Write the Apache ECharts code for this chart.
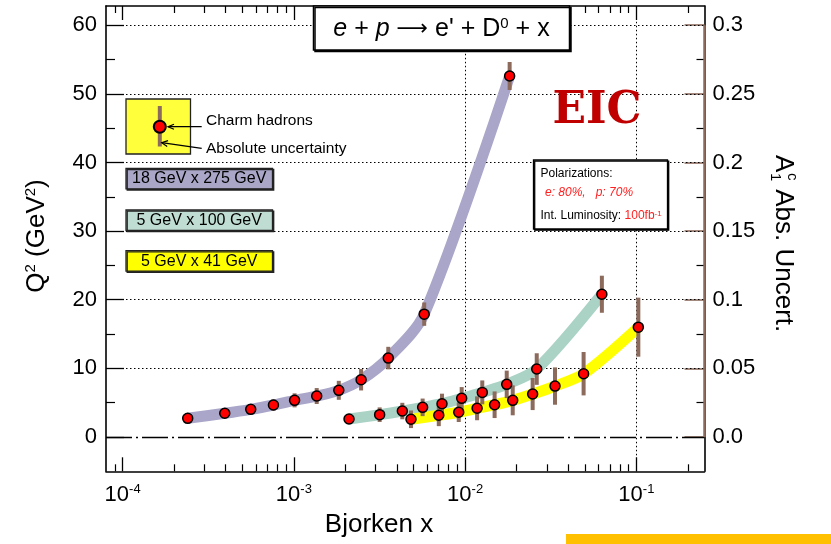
<!DOCTYPE html>
<html><head><meta charset="utf-8">
<script src="https://cdn.jsdelivr.net/npm/echarts@6/dist/echarts.min.js"></script>
<style>html,body{margin:0;padding:0;background:#fff}#c{width:831px;height:544px}</style>
</head><body><div id="c"></div>
<script>
// ---------- data ----------
const x18x275 = [2.40e-4, 3.95e-4, 5.6e-4, 7.6e-4, 1.01e-3, 1.36e-3, 1.83e-3, 2.47e-3, 3.56e-3, 5.77e-3, 1.82e-2];
const q2_18x275 = [2.72, 3.45, 4.03, 4.66, 5.34, 5.97, 6.80, 8.34, 11.5, 17.9, 52.6];
const unc18x275 = [0.0022, 0.0029, 0.0033, 0.0040, 0.0051, 0.0058, 0.0069, 0.0078, 0.0082, 0.0085, 0.0102];

const x5x100 = [2.10e-3, 3.17e-3, 4.30e-3, 5.65e-3, 7.33e-3, 9.55e-3, 1.26e-2, 1.75e-2, 2.62e-2, 6.29e-2];
const q2_5x100 = [2.62, 3.25, 3.78, 4.32, 4.85, 5.63, 6.5, 7.67, 9.9, 20.8];
const unc5x100 = [0.0036, 0.0053, 0.0060, 0.0064, 0.0073, 0.0082, 0.0087, 0.0100, 0.0115, 0.0135];

const x5x41 = [4.83e-3, 7.02e-3, 9.18e-3, 1.175e-2, 1.487e-2, 1.897e-2, 2.48e-2, 3.35e-2, 4.92e-2, 1.027e-1];
const q2_5x41 = [2.58, 3.16, 3.6, 4.18, 4.7, 5.34, 6.26, 7.42, 9.22, 16.0];
const unc5x41 = [0.0064, 0.0079, 0.0071, 0.0087, 0.0097, 0.0109, 0.0117, 0.0136, 0.0158, 0.0215];

const beamLabels = ['18 GeV x 275 GeV', '5 GeV x 100 GeV', '5 GeV x 41 GeV'];

const xMajorTicks = [1e-4, 1e-3, 1e-2, 1e-1];
const xMinorTicks = [9e-5, 2e-4, 3e-4, 4e-4, 5e-4, 6e-4, 7e-4, 8e-4, 9e-4,
  2e-3, 3e-3, 4e-3, 5e-3, 6e-3, 7e-3, 8e-3, 9e-3,
  2e-2, 3e-2, 4e-2, 5e-2, 6e-2, 7e-2, 8e-2, 9e-2, 2e-1];
const yMajorTicks = [0, 10, 20, 30, 40, 50, 60];
const yMinorTicks = [5, 15, 25, 35, 45, 55];
const rightTicks = [0, 0.05, 0.1, 0.15, 0.2, 0.25, 0.3];
const rightTickLabels = ['0.0', '0.05', '0.1', '0.15', '0.2', '0.25', '0.3'];

// ---------- setup ----------
const xMin = 8e-5, xMax = 0.25, yMin = -5, yMax = 62.8;
const ratio = yMajorTicks[yMajorTicks.length - 1] / rightTicks[rightTicks.length - 1];
const F = '"Liberation Sans", Arial, sans-serif';
const BROWN = '#8c6a5c';
const LX = v => Math.log10(v);
const colors = ['#a9a6c9', '#aad3c6', '#ffff00'];
const boxFills = ['#aaa6c8', '#c0ddd3', '#ffff00'];

const chart = echarts.init(document.getElementById('c'), null, {renderer: 'canvas'});

const zip = (a, b) => a.map((v, i) => [v, b[i]]);
const zip3 = (a, b, c) => a.map((v, i) => [v, b[i], c[i]]);

const sets = [
  [x18x275, q2_18x275, unc18x275],
  [x5x100, q2_5x100, unc5x100],
  [x5x41, q2_5x41, unc5x41]
];

const series = [];
// gridlines helper
series.push({
  type: 'line', xAxisIndex: 0, yAxisIndex: 0, data: [], silent: true, z: 1,
  markLine: {
    silent: true, symbol: ['none', 'none'], z: 1, animation: false,
    label: {show: false},
    lineStyle: {type: [1.5, 2.5], color: '#000', width: 1},
    data: [
      ...xMajorTicks.map(v => ({xAxis: v})),
      ...yMajorTicks.filter(v => v > 0).map(v => ({yAxis: v})),
      {yAxis: 0, lineStyle: {type: [26, 4, 2, 4], width: 1.3, color: '#000'}}
    ]
  }
});
sets.forEach((s, i) => {
  series.push({
    type: 'line', xAxisIndex: 0, yAxisIndex: 0, data: zip(s[0], s[1]),
    smooth: 0.3, showSymbol: false, symbol: 'none', z: 2, silent: true,
    lineStyle: {width: 11, color: colors[i]}
  });
});
sets.forEach((s, i) => {
  series.push({
    type: 'custom', xAxisIndex: 0, yAxisIndex: 0, data: zip3(s[0], s[1], s[2]), z: 3, silent: true,
    encode: {x: 0, y: 1},
    renderItem: (params, api) => {
      const x = api.value(0), y = api.value(1), u = api.value(2) * ratio;
      const p1 = api.coord([x, y + u]), p2 = api.coord([x, y - u]);
      return {type: 'rect', shape: {x: p1[0] - 2, y: p1[1], width: 4, height: p2[1] - p1[1]}, style: {fill: BROWN}};
    }
  });
});
sets.forEach((s, i) => {
  series.push({
    type: 'scatter', xAxisIndex: 0, yAxisIndex: 0, data: zip(s[0], s[1]), z: 4, silent: true,
    symbol: 'circle', symbolSize: 10,
    itemStyle: {color: '#ff0000', borderColor: '#000', borderWidth: 1.5, opacity: 1}
  });
});
// brown right-axis segment
series.push({
  type: 'line', xAxisIndex: 0, yAxisIndex: 2, data: [], silent: true, z: 6,
  markLine: {
    silent: true, symbol: ['none', 'none'], z: 6, animation: false, label: {show: false},
    lineStyle: {type: 'solid', color: BROWN, width: 2.5},
    data: [[{coord: [xMax, rightTicks[0]]}, {coord: [xMax, rightTicks[rightTicks.length - 1]]}]]
  }
});

const blackLine = {show: true, onZero: false, lineStyle: {color: '#000', width: 1.6}};
const noLine = {show: false, onZero: false};
const noLabel = {show: false};
const noSplit = {show: false};

const option = {
  animation: false,
  backgroundColor: '#fff',
  grid: {left: 106, right: 126.5, top: 6, bottom: 72.7, containLabel: false, outerBoundsMode: 'none'},
  xAxis: [
    {type: 'log', min: xMin, max: xMax, show: false, gridIndex: 0, axisLine: noLine},
    {type: 'value', min: LX(xMin), max: LX(xMax), position: 'bottom', axisLine: blackLine,
      axisTick: {show: true, inside: true, length: 14, customValues: xMajorTicks.map(LX), lineStyle: {color: '#000', width: 1.3}},
      axisLabel: {show: true, customValues: xMajorTicks.map(LX), margin: 12,
        formatter: v => '{b|10}{s|' + Math.round(v) + '}',
        rich: {b: {fontSize: 22, fontFamily: F, color: '#000', lineHeight: 24},
               s: {fontSize: 13, fontFamily: F, color: '#000', verticalAlign: 'top', lineHeight: 13}}},
      splitLine: noSplit},
    {type: 'value', min: LX(xMin), max: LX(xMax), position: 'bottom', axisLine: noLine,
      axisTick: {show: true, inside: true, length: 7, customValues: xMinorTicks.map(LX), lineStyle: {color: '#000', width: 1.2}},
      axisLabel: noLabel, splitLine: noSplit},
    {type: 'value', min: LX(xMin), max: LX(xMax), position: 'top', axisLine: blackLine,
      axisTick: {show: true, inside: true, length: 14, customValues: xMajorTicks.map(LX), lineStyle: {color: '#000', width: 1.3}},
      axisLabel: noLabel, splitLine: noSplit},
    {type: 'value', min: LX(xMin), max: LX(xMax), position: 'top', axisLine: noLine,
      axisTick: {show: true, inside: true, length: 7, customValues: xMinorTicks.map(LX), lineStyle: {color: '#000', width: 1.2}},
      axisLabel: noLabel, splitLine: noSplit}
  ],
  yAxis: [
    {type: 'value', min: yMin, max: yMax, position: 'left', axisLine: blackLine,
      axisTick: {show: true, inside: true, length: 18, customValues: yMajorTicks, lineStyle: {color: '#000', width: 1.3}},
      axisLabel: {show: true, customValues: yMajorTicks, margin: 9, fontSize: 22, fontFamily: F, color: '#000'},
      splitLine: noSplit},
    {type: 'value', min: yMin, max: yMax, position: 'left', axisLine: noLine,
      axisTick: {show: true, inside: true, length: 9, customValues: yMinorTicks, lineStyle: {color: '#000', width: 1.2}},
      axisLabel: noLabel, splitLine: noSplit},
    {type: 'value', min: yMin * rightTicks[6] / yMajorTicks[6], max: yMax * rightTicks[6] / yMajorTicks[6], position: 'right',
      axisLine: noLine,
      axisTick: {show: true, inside: true, length: 20, customValues: rightTicks, lineStyle: {color: BROWN, width: 1.6}},
      axisLabel: {show: true, customValues: rightTicks, margin: 8, fontSize: 22, fontFamily: F, color: '#000',
        formatter: v => { const i = rightTicks.findIndex(t => Math.abs(t - v) < 1e-9); return i >= 0 ? rightTickLabels[i] : ''; }},
      splitLine: noSplit},
    {type: 'value', min: yMin, max: yMax, position: 'right', axisLine: blackLine,
      axisTick: {show: true, inside: true, length: 8, customValues: yMinorTicks, lineStyle: {color: '#000', width: 1.2}},
      axisLabel: noLabel, splitLine: noSplit}
  ],
  series: series,
  graphic: [
    // title box
    {type: 'rect', z: 100, shape: {x: 313.5, y: 6, width: 256, height: 44},
      style: {fill: '#fff', stroke: '#000', lineWidth: 1.5, shadowColor: '#000', shadowOffsetX: 1.5, shadowOffsetY: 1.5, shadowBlur: 0}},
    {type: 'text', z: 101, x: 441.5, y: 29,
      style: {text: '{i|e} + {i|p} {ar|\u27F6} e\' + D{s|0} + x', align: 'center', verticalAlign: 'middle',
        fontSize: 25, fontFamily: F, fill: '#000',
        rich: {i: {fontStyle: 'italic', fontSize: 25, fontFamily: F, fill: '#000'},
               ar: {fontSize: 22, fontFamily: '"DejaVu Sans", sans-serif', fill: '#000'},
               s: {fontSize: 15, fontFamily: F, fill: '#000', verticalAlign: 'top', lineHeight: 15}}}},
    // legend sample
    {type: 'rect', z: 100, shape: {x: 126, y: 99, width: 64.5, height: 55},
      style: {fill: '#ffff3c', stroke: '#222', lineWidth: 1.3}},
    {type: 'rect', z: 101, shape: {x: 157.8, y: 106, width: 4, height: 40.5}, style: {fill: BROWN}},
    {type: 'circle', z: 102, shape: {cx: 159.8, cy: 126.7, r: 6}, style: {fill: '#ff0000', stroke: '#000', lineWidth: 2}},
    {type: 'line', z: 103, shape: {x1: 201.7, y1: 126.7, x2: 168, y2: 126.7}, style: {stroke: '#000', lineWidth: 1.2}},
    {type: 'polyline', z: 103, shape: {points: [[174, 124.2], [168, 126.7], [174, 129.2]]}, style: {stroke: '#000', lineWidth: 1.2, fill: null}},
    {type: 'line', z: 103, shape: {x1: 201.7, y1: 148.3, x2: 161.7, y2: 142.7}, style: {stroke: '#000', lineWidth: 1.2}},
    {type: 'polyline', z: 103, shape: {points: [[168.06, 140.56], [161.7, 142.7], [167.22, 146.5]]}, style: {stroke: '#000', lineWidth: 1.2, fill: null}},
    {type: 'text', z: 103, x: 206, y: 121, style: {text: 'Charm hadrons', fontSize: 15.5, fontFamily: F, fill: '#000', verticalAlign: 'middle'}},
    {type: 'text', z: 103, x: 206, y: 148.5, style: {text: 'Absolute uncertainty', fontSize: 15.5, fontFamily: F, fill: '#000', verticalAlign: 'middle'}},
    // beam boxes
    ...[168.3, 210, 250.7].map((y, i) => ({
      type: 'group', z: 100, children: [
        {type: 'rect', z: 100, shape: {x: 126, y: y, width: 146.5, height: 20.5},
          style: {fill: boxFills[i], stroke: '#222', lineWidth: 1.3, shadowColor: '#222', shadowOffsetX: 1.2, shadowOffsetY: 1.2, shadowBlur: 0}},
        {type: 'text', z: 101, x: 199.2, y: y + 10.5, style: {text: beamLabels[i], fontSize: 16, fontFamily: F, fill: '#000', align: 'center', verticalAlign: 'middle'}}
      ]})),
    // EIC
    {type: 'text', z: 100, x: 597, y: 111.5, style: {text: 'EIC', fontSize: 44, fontWeight: 'bold', fontFamily: '"DejaVu Serif", serif', fill: '#c00000', align: 'center', verticalAlign: 'middle'}},
    // polarization box
    {type: 'rect', z: 100, shape: {x: 533.5, y: 160, width: 134, height: 69},
      style: {fill: '#fff', stroke: '#000', lineWidth: 1.3, shadowColor: '#000', shadowOffsetX: 1.2, shadowOffsetY: 1.2, shadowBlur: 0}},
    {type: 'text', z: 101, x: 540.5, y: 173.5, style: {text: 'Polarizations:', fontSize: 12, fontFamily: F, fill: '#000', verticalAlign: 'middle'}},
    {type: 'text', z: 101, x: 545, y: 192.5, style: {text: 'e: 80%,   p: 70%', fontSize: 12, fontStyle: 'italic', fontFamily: F, fill: '#ff2020', verticalAlign: 'middle'}},
    {type: 'text', z: 101, x: 540.5, y: 215.5, style: {text: '{k|Int. Luminosity: }{r|100fb}{s|-1}', fontSize: 12, fontFamily: F, fill: '#000', verticalAlign: 'middle',
      rich: {k: {fontSize: 12, fontFamily: F, fill: '#000'}, r: {fontSize: 12, fontFamily: F, fill: '#ff2020'},
             s: {fontSize: 8, fontFamily: F, fill: '#ff2020', verticalAlign: 'top', lineHeight: 8}}}},
    // axis titles
    {type: 'text', z: 100, x: 379, y: 525, style: {text: 'Bjorken x', fontSize: 26, fontFamily: F, fill: '#000', align: 'center', verticalAlign: 'middle'}},
    {type: 'text', z: 100, x: 37, y: 236, rotation: Math.PI / 2,
      style: {text: '{a|Q}{s|2}{a| (GeV}{s|2}{a|)}', align: 'center', verticalAlign: 'middle', fontSize: 26, fontFamily: F, fill: '#000',
        rich: {a: {fontSize: 26, fontFamily: F, fill: '#000', lineHeight: 28}, s: {fontSize: 15, fontFamily: F, fill: '#000', verticalAlign: 'top', lineHeight: 15}}}},
    {type: 'group', z: 100, x: 783, y: 155, rotation: -Math.PI / 2, children: [
      {type: 'text', x: 0, y: 0, style: {text: 'A', fontSize: 26, fontFamily: F, fill: '#000', verticalAlign: 'middle'}},
      {type: 'text', x: 18, y: -9, style: {text: 'c', fontSize: 15, fontFamily: F, fill: '#000', verticalAlign: 'middle'}},
      {type: 'text', x: 18, y: 8, style: {text: '1', fontSize: 15, fontFamily: F, fill: '#000', verticalAlign: 'middle'}},
      {type: 'text', x: 27, y: 0, style: {text: ' Abs. Uncert.', fontSize: 26, fontFamily: F, fill: '#000', verticalAlign: 'middle'}}
    ]},
    // bottom accent bar
    {type: 'rect', z: 100, shape: {x: 566, y: 534, width: 265, height: 10}, style: {fill: '#ffc000'}}
  ]
};
chart.setOption(option);
</script>
</body></html>
